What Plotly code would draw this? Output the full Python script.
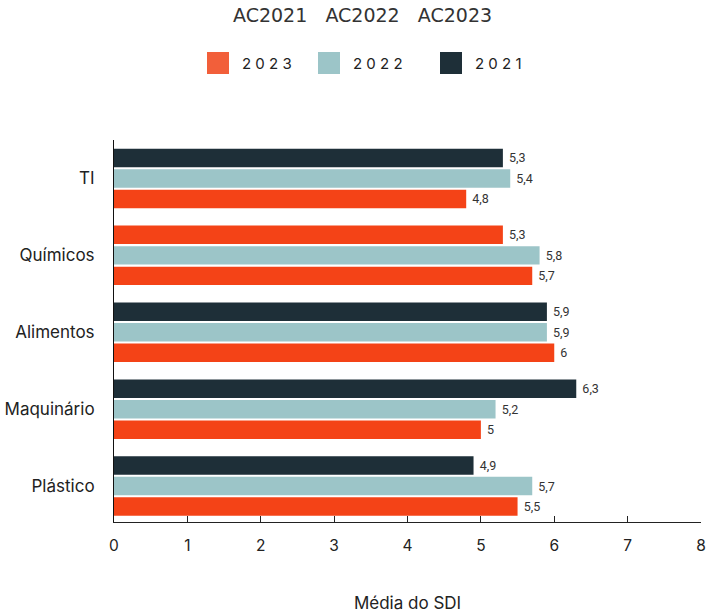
import plotly.graph_objects as go

categories = ["TI", "Químicos", "Alimentos", "Maquinário", "Plástico"]
v2021 = [5.3, 5.3, 5.9, 6.3, 4.9]
v2022 = [5.4, 5.8, 5.9, 5.2, 5.7]
v2023 = [4.8, 5.7, 6.0, 5.0, 5.5]
x_ticks = [0, 1, 2, 3, 4, 5, 6, 7, 8]
legend_labels = ["2 0 2 3", "2 0 2 2", "2 0 2 1"]

C2021 = "#1E2F38"
C2022 = "#9CC5C8"
C2023 = "#F44317"
C2023_LEG = "#F25F3A"

colors2021 = [C2021, C2023, C2021, C2021, C2021]

L, R, T, B = 114, 6, 140, 91
PW, PH = 707 - L - R, 613 - T - B

fig = go.Figure()
for vals, col, name in [(v2021, colors2021, "2021"), (v2022, C2022, "2022"), (v2023, C2023, "2023")]:
    fig.add_trace(go.Bar(
        y=categories, x=vals, orientation="h", name=name,
        marker=dict(color=col, line=dict(width=0)),
        text=vals, texttemplate=" %{x}", textposition="outside",
        textfont=dict(size=12.5, color="#333333", family="Roboto"),
        cliponaxis=False, showlegend=False,
    ))

fig.update_layout(
    width=707, height=613,
    margin=dict(l=L, r=R, t=T, b=B, autoexpand=False),
    paper_bgcolor="white", plot_bgcolor="white",
    barmode="group", bargap=0.2, bargroupgap=0.1,
    separators=",.",
    font=dict(family="Inter", color="#222222"),
    xaxis=dict(
        range=[0, 8], tickvals=x_ticks, showgrid=False, zeroline=False,
        showline=True, linecolor="#222222", linewidth=1, automargin=False,
        ticks="inside", ticklen=6, tickcolor="#222222",
        tickfont=dict(size=15.5, color="#222222"), ticklabelstandoff=9,
        title=dict(text="Média do SDI", font=dict(size=17, color="#222222"), standoff=49),
    ),
    yaxis=dict(
        categoryorder="array", categoryarray=categories,
        range=[4.467, -0.5], showgrid=False, zeroline=False, automargin=False,
        showline=True, linecolor="#111111", linewidth=1,
        ticks="", tickfont=dict(size=17, color="#222222"), ticklabelstandoff=15,
    ),
)

fig.add_annotation(
    text="AC2021&nbsp;&nbsp;&nbsp;AC2022&nbsp;&nbsp;&nbsp;AC2023",
    xref="paper", yref="paper", x=(362 - L) / PW, y=1 + (T - 15) / PH,
    yanchor="middle", showarrow=False, font=dict(size=19, color="#333333", family="DejaVu Sans"),
)

leg_cols = [C2023_LEG, C2022, C2021]
leg_x = [207, 318, 440]
for lab, col, lx in zip(legend_labels, leg_cols, leg_x):
    x0 = (lx - L) / PW
    x1 = (lx + 22 - L) / PW
    y0 = 1 + (T - 74) / PH
    y1 = 1 + (T - 52) / PH
    fig.add_shape(type="rect", xref="paper", yref="paper", x0=x0, x1=x1, y0=y0, y1=y1,
                  fillcolor=col, line=dict(width=0))
    fig.add_annotation(text=lab, xref="paper", yref="paper",
                       x=(lx + 33 - L) / PW, y=1 + (T - 63) / PH,
                       xanchor="left", yanchor="middle", showarrow=False,
                       font=dict(size=15, color="#222222", family="Inter"))

fig.write_html("out.html", config={"displayModeBar": False},
               post_script="document.body.style.margin='0';")
